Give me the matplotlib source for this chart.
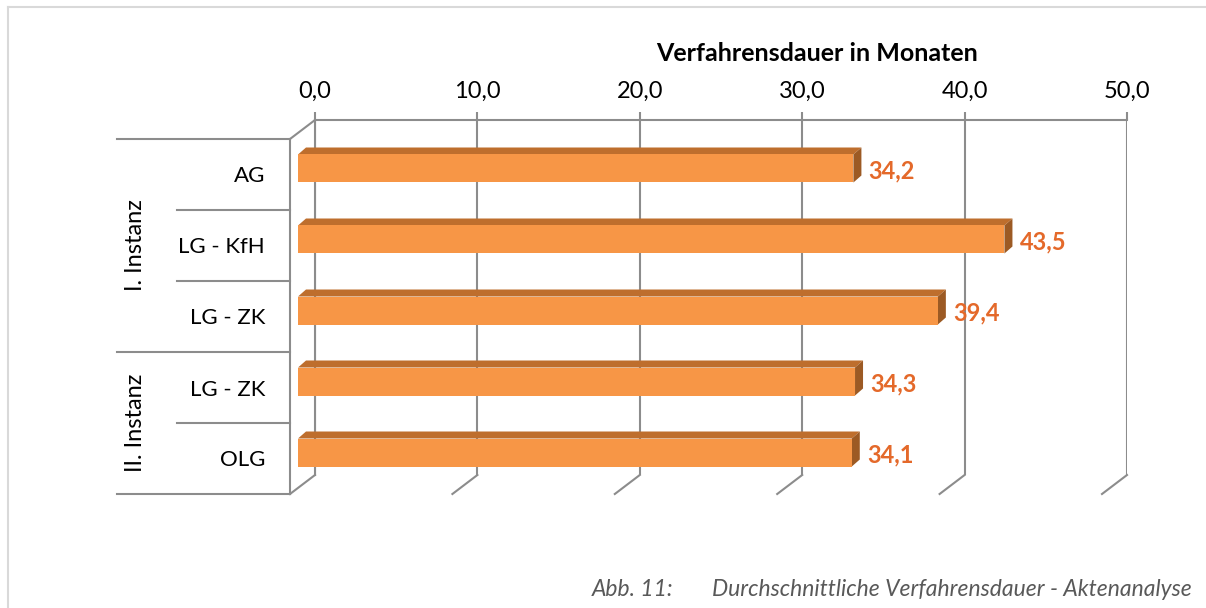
import matplotlib.pyplot as plt
from matplotlib.patches import Polygon, Rectangle
from matplotlib.lines import Line2D

# Daten
kategorien = ['AG', 'LG - KfH', 'LG - ZK', 'LG - ZK', 'OLG']
gruppen = ['I. Instanz', 'II. Instanz']
gruppen_groesse = [3, 2]
dauer = [34.2, 43.5, 39.4, 34.3, 34.1]
ticks = [0, 10, 20, 30, 40, 50]
tick_labels = ['0,0', '10,0', '20,0', '30,0', '40,0', '50,0']

plt.rcParams['font.family'] = ['Lato', 'DejaVu Sans']

W, H = 1206, 608
fig = plt.figure(figsize=(W / 100, H / 100), dpi=100)

grau = '#8c8c8c'
orange = '#f79646'
oben = '#be6e2d'
seite = '#9c5a24'
text_orange = '#e4692a'

# 3D-Tiefe in Datenkoordinaten (px -> Einheiten)
px_x = 812 / 50
px_y = 71
DX = 25 / px_x
DY = -19 / px_y

# Rückwand
axb = fig.add_axes([315 / W, 1 - 475 / H, 812 / W, 355 / H])
axb.set_xlim(0, 50)
axb.set_ylim(0, 1)
axb.set_xticks(ticks)
axb.set_xticklabels(tick_labels)
axb.xaxis.tick_top()
axb.xaxis.set_label_position('top')
axb.tick_params(axis='x', length=6, width=1.5, color=grau, labelsize=17, pad=7)
axb.set_yticks([])
axb.grid(axis='x', color=grau, linewidth=1.5)
for s in ['right', 'bottom']:
    axb.spines[s].set_visible(False)
for s in ['top', 'left']:
    axb.spines[s].set_color(grau)
    axb.spines[s].set_linewidth(1.5)
axb.set_xlabel('Verfahrensdauer in Monaten', fontsize=18, fontweight='bold')
axb.xaxis.set_label_coords(0.618, 1 + 59 / 355)

# Vorderebene
ax = fig.add_axes([290 / W, 1 - 494 / H, 812 / W, 355 / H])
ax.patch.set_visible(False)
ax.set_xlim(0, 50)
ax.set_ylim(4.5, -0.5)
ax.set_xticks([])
ax.set_yticks(range(len(kategorien)))
ax.set_yticklabels(kategorien, fontsize=16)
ax.tick_params(axis='y', length=0, pad=18)
for s in ['right', 'bottom', 'top']:
    ax.spines[s].set_visible(False)
ax.spines['left'].set_color(grau)
ax.spines['left'].set_linewidth(1.5)

# Boden-Schrägen
for t in ticks:
    ax.add_line(Line2D([t, t + DX], [4.5, 4.5 + DY], color=grau, lw=1.5, clip_on=False))
ax.add_line(Line2D([0, DX], [-0.5, -0.5 + DY], color=grau, lw=1.5, clip_on=False))

# Kategorienachse mit Gruppen
start = -0.5
for g, n in zip(gruppen, gruppen_groesse):
    ende = start + n
    ax.text(-9.5, (start + ende) / 2, g, rotation=90, ha='center', va='center',
            fontsize=17, clip_on=False)
    start = ende
gruppen_grenzen = [-0.5] + [sum(gruppen_groesse[:i + 1]) - 0.5 for i in range(len(gruppen_groesse))]
for i in range(len(kategorien) + 1):
    y = i - 0.5
    x0 = -10.65 if y in gruppen_grenzen else -6.96
    ax.add_line(Line2D([x0, 0], [y, y], color=grau, lw=1.5, clip_on=False))

# Balken
bx = 8 / px_x
by = -6 / px_y
h = 28 / px_y
tx = 8 / px_x
ty = -7 / px_y
for i, v in enumerate(dauer):
    x0 = bx
    x1 = v + bx
    top = i + by - h / 2
    bot = i + by + h / 2
    ax.add_patch(Polygon([[x0, top], [x1, top], [x1 + tx, top + ty], [x0 + tx, top + ty]],
                         closed=True, facecolor=oben, edgecolor='none', clip_on=False))
    ax.add_patch(Polygon([[x1, top], [x1 + tx, top + ty], [x1 + tx, bot + ty], [x1, bot]],
                         closed=True, facecolor=seite, edgecolor='none', clip_on=False))
    ax.add_patch(Rectangle((x0, top), v, h, facecolor=orange, edgecolor='none', clip_on=False))
    ax.text(x1 + 15 / px_x, i + by + 0.03, f'{v:.1f}'.replace('.', ','), ha='left', va='center',
            color=text_orange, fontsize=17, fontweight='bold', clip_on=False)

# Rahmen
fig.add_artist(Line2D([7.5 / W, 7.5 / W], [0, 1 - 6.5 / H], color='#d9d9d9', lw=1.5))
fig.add_artist(Line2D([7.5 / W, 1], [1 - 6.5 / H, 1 - 6.5 / H], color='#d9d9d9', lw=1.5))

# Bildunterschrift
fig.text(592 / W, 1 - 590 / H, 'Abb. 11:', style='italic', color='#595959', fontsize=16.5,
         ha='left', va='center')
fig.text(1192 / W, 1 - 590 / H, 'Durchschnittliche Verfahrensdauer - Aktenanalyse', style='italic',
         color='#595959', fontsize=16.5, ha='right', va='center')

fig.savefig('out.png', dpi=100)
